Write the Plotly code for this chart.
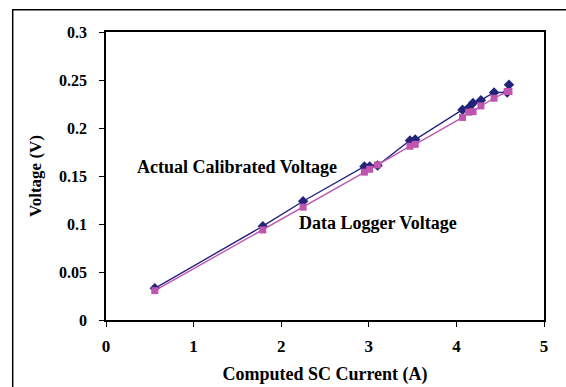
import plotly.graph_objects as go

current = [0.557, 1.79, 2.25, 2.95, 3.01, 3.10, 3.47, 3.53, 4.07, 4.14, 4.19, 4.28, 4.43, 4.58, 4.60]
actual_v = [0.033, 0.0977, 0.1237, 0.160, 0.160, 0.161, 0.187, 0.188, 0.219, 0.221, 0.226, 0.229, 0.237, 0.237, 0.245]
logger_v = [0.0306, 0.0938, 0.1175, 0.154, 0.157, 0.1616, 0.181, 0.183, 0.211, 0.2165, 0.217, 0.223, 0.231, 0.238, 0.238]
x_ticks = [0, 1, 2, 3, 4, 5]
y_ticks = [0, 0.05, 0.1, 0.15, 0.2, 0.25, 0.3]

FONT = "Liberation Serif"
BLUE = "#23237a"
PINK = "#c055b0"

fig = go.Figure()
fig.add_trace(go.Scatter(x=current, y=actual_v, mode="lines+markers", name="Actual Calibrated Voltage",
                         line=dict(color=BLUE, width=1.4),
                         marker=dict(symbol="diamond", size=8, color=BLUE)))
fig.add_trace(go.Scatter(x=current, y=logger_v, mode="lines+markers", name="Data Logger Voltage",
                         line=dict(color=PINK, width=1.4),
                         marker=dict(symbol="square", size=7, color=PINK)))

fig.update_layout(
    width=566, height=387,
    margin=dict(l=106, r=22, t=32, b=67),
    paper_bgcolor="white", plot_bgcolor="white",
    showlegend=False,
    font=dict(family=FONT, color="black"),
    xaxis=dict(range=[0, 5], tickvals=x_ticks, ticktext=["<b>%s</b>" % v for v in x_ticks],
               showgrid=False, zeroline=False, showline=True, linecolor="black", linewidth=1.5,
               mirror=True, ticks="outside", ticklen=5, tickcolor="black", automargin=False,
               tickfont=dict(family=FONT, size=17, color="black"), ticklabelstandoff=5,
               title=dict(text="<b>Computed SC Current (A)</b>", font=dict(family=FONT, size=18, color="black"), standoff=12)),
    yaxis=dict(range=[0, 0.3], tickvals=y_ticks, ticktext=["<b>%s</b>" % v for v in y_ticks],
               showgrid=False, zeroline=False, showline=True, linecolor="black", linewidth=1.5,
               mirror=True, ticks="outside", ticklen=5, tickcolor="black", automargin=False,
               tickfont=dict(family=FONT, size=16, color="black"), ticklabelstandoff=9,
               title=dict(text="<b>Voltage (V)</b>", font=dict(family=FONT, size=17, color="black"), standoff=13)),
)

fig.add_annotation(x=1.50, y=0.159, xref="x", yref="y", text="<b>Actual Calibrated Voltage</b>",
                   showarrow=False, font=dict(family=FONT, size=18, color="black"))
fig.add_annotation(x=3.11, y=0.1015, xref="x", yref="y", text="<b>Data Logger Voltage</b>",
                   showarrow=False, font=dict(family=FONT, size=18, color="black"))

fig.add_shape(type="rect", xref="paper", yref="paper", x0=-0.213, x1=1.2, y0=-0.4, y1=1.0775,
              line=dict(color="black", width=1.5), fillcolor="rgba(0,0,0,0)", layer="below")

fig.write_html("out.html")
